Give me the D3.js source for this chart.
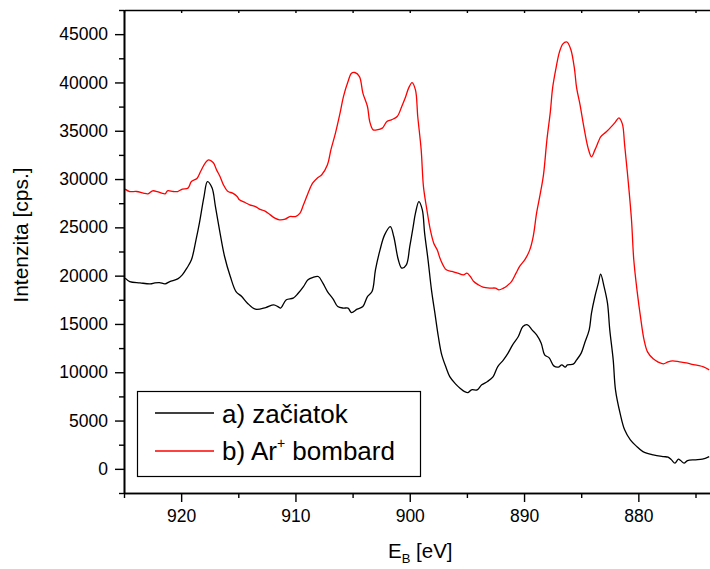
<!DOCTYPE html>
<html lang="sk">
<head>
	<meta charset="UTF-8">
	<style>
	body { margin: 0; background: #fff; }
	svg { display: block; font-family: "Liberation Sans", Arial, sans-serif; }
	</style>
	<script src="https://d3js.org/d3.v7.min.js"></script>
	<title>XPS spektrum</title>
</head>
<body>
	<div id="chart"></div>
	<script>
		// a) začiatok - binding energy [eV] and intensity [cps.]
		const energyA = [924.9, 924.5, 923.6, 922.7, 922.3, 921.9, 921.4, 921.0, 920.3, 919.9,
			919.5, 919.1, 918.7, 918.4, 918.0, 917.7, 917.3, 917.0, 916.6, 916.2,
			915.7, 915.2, 914.7, 914.2, 913.5, 912.6, 911.9, 911.5, 911.3, 910.8,
			910.2, 909.8, 909.3, 908.9, 908.5, 908.0, 907.6, 907.2, 906.7, 906.3,
			905.8, 905.4, 905.1, 904.6, 904.1, 903.7, 903.3, 903.0, 902.6, 902.2,
			901.7, 901.4, 901.0, 900.7, 900.3, 900.0, 899.7, 899.5, 899.2, 898.9,
			898.7, 898.4, 898.1, 897.8, 897.5, 897.2, 896.8, 896.5, 896.0, 895.6,
			895.2, 894.9, 894.6, 894.1, 893.7, 893.2, 892.7, 892.3, 891.8, 891.4,
			891.0, 890.5, 890.1, 889.7, 889.3, 888.9, 888.5, 888.2, 887.8, 887.4,
			887.0, 886.7, 886.4, 886.2, 885.7, 885.4, 885.0, 884.7, 884.3, 884.1,
			883.8, 883.5, 883.3, 883.0, 882.7, 882.5, 882.2, 882.0, 881.6, 881.2,
			880.7, 880.2, 879.6, 878.7, 877.8, 877.4, 877.1, 876.8, 876.5, 876.3,
			876.0, 875.7, 875.0, 874.4, 873.8];
		const intensA = [19740, 19390, 19255, 19150, 19255, 19285, 19150, 19390, 19670, 20080,
			20780, 21640, 23710, 25470, 28190, 29740, 29090, 27150, 24430, 21980,
			19910, 18350, 17840, 17150, 16530, 16700, 16980, 16770, 16640, 17500,
			17670, 18120, 18870, 19570, 19800, 19910, 19220, 18350, 17570, 16800,
			16640, 16640, 16180, 16530, 16800, 17840, 18350, 20600, 22670, 24220,
			25080, 24050, 21640, 20780, 21120, 23010, 25080, 26470, 27670, 26810,
			24400, 21640, 18530, 16120, 13700, 11800, 10420, 9555, 8800, 8355,
			8000, 7900, 8180, 8180, 8700, 9040, 9555, 10590, 11280, 11980,
			12840, 13700, 14730, 14910, 14390, 13870, 13010, 11800, 11490, 10660,
			10530, 10770, 10530, 10770, 10840, 11280, 11980, 13010, 14390, 16120,
			17840, 19220, 20150, 18870, 17150, 14390, 11280, 8180, 5770, 4040,
			3000, 2380, 1790, 1450, 1270, 1210, 930, 590, 1000, 860,
			590, 860, 930, 1000, 1270];

		// b) Ar+ bombard
		const energyB = [924.9, 924.5, 923.9, 923.3, 922.9, 922.5, 922.1, 921.7, 921.4, 921.2,
			920.7, 920.3, 919.9, 919.4, 919.1, 918.6, 918.3, 917.9, 917.6, 917.2,
			916.9, 916.6, 916.3, 915.9, 915.5, 915.1, 914.9, 914.4, 914.0, 913.5,
			913.1, 912.7, 912.2, 911.8, 911.4, 910.9, 910.5, 910.0, 909.6, 909.3,
			908.9, 908.5, 908.1, 907.7, 907.2, 906.9, 906.5, 906.1, 905.8, 905.4,
			905.1, 904.8, 904.4, 904.1, 903.7, 903.5, 903.2, 902.9, 902.4, 902.0,
			901.6, 901.1, 900.7, 900.4, 900.1, 899.8, 899.5, 899.3, 899.0, 898.8,
			898.5, 898.2, 897.9, 897.6, 897.3, 896.8, 896.3, 895.8, 895.3, 895.0,
			894.7, 894.4, 894.0, 893.6, 893.0, 892.5, 892.2, 891.8, 891.5, 891.1,
			890.7, 890.4, 889.9, 889.5, 889.2, 888.9, 888.6, 888.3, 888.0, 887.7,
			887.5, 887.2, 886.9, 886.6, 886.3, 886.2, 885.9, 885.6, 885.4, 885.1,
			884.8, 884.4, 884.1, 883.8, 883.5, 883.3, 882.8, 882.3, 882.0, 881.7,
			881.4, 881.2, 880.9, 880.6, 880.4, 880.1, 879.8, 879.5, 879.2, 878.7,
			878.3, 877.8, 877.4, 877.0, 876.4, 875.8, 875.3, 874.8, 874.3, 873.8];
		const intensB = [28960, 28710, 28710, 28540, 28470, 28780, 28710, 28540, 28470, 28780,
			28710, 28710, 28960, 29060, 29740, 30090, 30780, 31650, 31990, 31710,
			30950, 30260, 29400, 28710, 28540, 28190, 27850, 27570, 27330, 27150,
			26860, 26710, 26290, 25950, 25780, 25850, 26120, 26120, 26470, 27330,
			28540, 29580, 30090, 30440, 31470, 33020, 34750, 36820, 38540, 40090,
			40960, 41030, 40610, 38890, 37510, 35950, 35090, 35090, 35270, 35950,
			36130, 36470, 37510, 38380, 39410, 39990, 39230, 36470, 33020, 29220,
			26810, 24740, 23360, 22670, 21640, 20600, 20430, 20260, 20080, 20260,
			19910, 19390, 19050, 18810, 18710, 18710, 18530, 18710, 18940, 19390,
			20260, 20940, 21710, 22670, 24050, 26500, 28360, 30440, 34060, 36960,
			39440, 41510, 43170, 44000, 44200, 44150, 43380, 41510, 39440, 37680,
			35610, 33230, 32300, 33020, 33850, 34370, 34890, 35510, 35920, 36340,
			35710, 33540, 29920, 25780, 21640, 18320, 15630, 13350, 12110, 11390,
			11080, 10870, 11080, 11180, 11080, 10970, 10820, 10710, 10560, 10250];

		// axes
		const xTickValues = [920, 910, 900, 890, 880];
		const xMinorValues = [925, 915, 905, 895, 885, 875];
		const yTickValues = [0, 5000, 10000, 15000, 20000, 25000, 30000, 35000, 40000, 45000];
		const yMinorValues = [-2500, 2500, 7500, 12500, 17500, 22500, 27500, 32500, 37500, 42500, 47500];
		const xDomain = [925, 870];
		const yDomain = [-2500, 47500];

		const legendLabels = ["a) začiatok", "b) Ar", "+", " bombard"];

		function drawChart() {
			const width = 710, height = 569;
			const left = 124, top = 10, bottom = 493;

			const svg = d3.select("#chart")
				.append("svg")
				.attr("width", width)
				.attr("height", height);

			const x = d3.scaleLinear().domain(xDomain).range([left, left + 55 * 11.43]);
			const y = d3.scaleLinear().domain(yDomain).range([bottom, top]);

			// curves
			const line = d3.line()
				.x(d => x(d[0]))
				.y(d => y(d[1]))
				.curve(d3.curveCatmullRom.alpha(0.5));

			svg.append("path")
				.datum(d3.zip(energyB, intensB))
				.attr("d", line)
				.attr("fill", "none")
				.attr("stroke", "#ff0000")
				.attr("stroke-width", 1.3);

			svg.append("path")
				.datum(d3.zip(energyA, intensA))
				.attr("d", line)
				.attr("fill", "none")
				.attr("stroke", "#000")
				.attr("stroke-width", 1.3);

			// bottom axis
			svg.append("g")
				.attr("transform", "translate(0," + bottom + ")")
				.call(d3.axisBottom(x).tickValues(xMinorValues).tickSize(5).tickSizeOuter(0).tickFormat(""));
			svg.append("g")
				.attr("class", "ax")
				.attr("transform", "translate(0," + bottom + ")")
				.call(d3.axisBottom(x).tickValues(xTickValues).tickSize(9).tickSizeOuter(0).tickPadding(8).tickFormat(d3.format("d")));

			// top axis, small ticks inward
			svg.append("g")
				.attr("transform", "translate(0," + top + ")")
				.call(d3.axisTop(x).tickValues(xTickValues.concat(xMinorValues)).tickSize(-3).tickSizeOuter(0).tickFormat(""));

			// left axis
			svg.append("g")
				.attr("transform", "translate(" + left + ",0)")
				.call(d3.axisLeft(y).tickValues(yMinorValues).tickSize(5).tickSizeOuter(0).tickFormat(""));
			svg.append("g")
				.attr("class", "ax")
				.attr("transform", "translate(" + left + ",0)")
				.call(d3.axisLeft(y).tickValues(yTickValues).tickSize(9).tickSizeOuter(0).tickPadding(7).tickFormat(d3.format("d")));

			svg.selectAll(".domain").attr("stroke-width", 1.6);
			svg.selectAll(".tick line").attr("stroke-width", 1.4);
			svg.selectAll(".ax text")
				.attr("font-size", 17.5)
				.attr("font-family", "Liberation Sans, Arial, sans-serif")
				.attr("fill", "#000");

			// axis titles
			svg.append("text")
				.attr("transform", "translate(28,235) rotate(-90)")
				.attr("text-anchor", "middle")
				.attr("font-size", 21)
				.text("Intenzita [cps.]");

			const xt = svg.append("text")
				.attr("x", 388)
				.attr("y", 558)
				.attr("font-size", 20.5);
			xt.append("tspan").text("E");
			xt.append("tspan").attr("font-size", 13).attr("dy", 5).text("B");
			xt.append("tspan").attr("dy", -5).text(" [eV]");

			// legend
			const lg = svg.append("g");
			lg.append("rect")
				.attr("x", 137.5).attr("y", 391.5)
				.attr("width", 283).attr("height", 85)
				.attr("fill", "#fff")
				.attr("stroke", "#000")
				.attr("stroke-width", 1.2);
			lg.append("line")
				.attr("x1", 155).attr("x2", 214).attr("y1", 413).attr("y2", 413)
				.attr("stroke", "#000").attr("stroke-width", 1.3);
			lg.append("line")
				.attr("x1", 155).attr("x2", 214).attr("y1", 451).attr("y2", 451)
				.attr("stroke", "#ff0000").attr("stroke-width", 1.3);
			lg.append("text")
				.attr("x", 222).attr("y", 423)
				.attr("font-size", 26)
				.text(legendLabels[0]);
			const t2 = lg.append("text")
				.attr("x", 222).attr("y", 460)
				.attr("font-size", 26);
			t2.append("tspan").text(legendLabels[1]);
			t2.append("tspan").attr("font-size", 14).attr("dy", -12).text(legendLabels[2]);
			t2.append("tspan").attr("dy", 12).text(legendLabels[3]);
		}

		drawChart();
	</script>
</body>
</html>
